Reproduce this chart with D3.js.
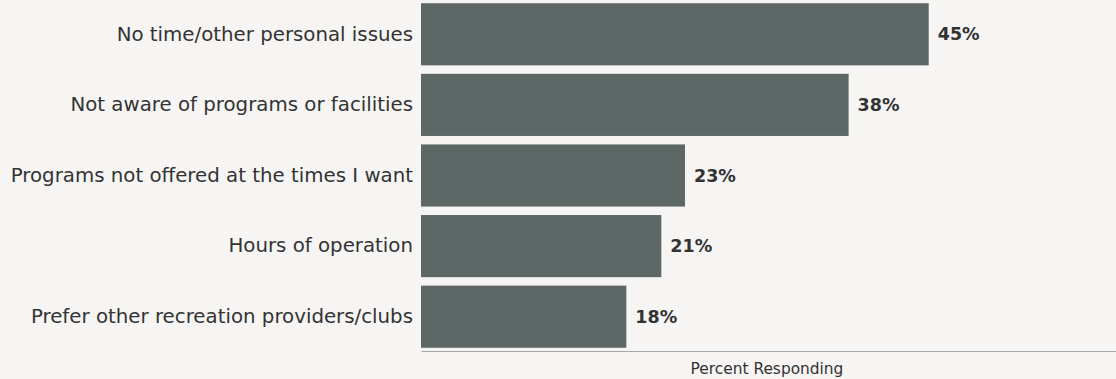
<!DOCTYPE html>
<html>
<head>
<meta charset="utf-8">
<script src="https://cdn.jsdelivr.net/npm/d3@7"></script>
<style>
html,body{margin:0;padding:0;background:#f6f5f3;}
svg{display:block;}
</style>
</head>
<body>
<svg id="chart" width="1116" height="379"></svg>
<script>
const categories = [
  "No time/other personal issues",
  "Not aware of programs or facilities",
  "Programs not offered at the times I want",
  "Hours of operation",
  "Prefer other recreation providers/clubs"
];
const values = [45.0, 37.9, 23.4, 21.3, 18.2];
const valueLabels = ["45%", "38%", "23%", "21%", "18%"];
const axisTitle = "Percent Responding";

(function () {
const svg = d3.select("#chart");
const W = 1116, H = 379;
const mLeft = 421, mRight = 1116, mBottom = 351;
const font = "'DejaVu Sans', sans-serif";

svg.append("rect").attr("width", W).attr("height", H).attr("fill", "#f6f5f3");

const x = d3.scaleLinear().domain([0, 61.6]).range([mLeft, mRight]);
const y = d3.scaleBand().domain(categories).range([-1, 352]).paddingInner(0.12).paddingOuter(0.06);

const g = svg.append("g");

g.selectAll("rect.bar").data(categories).join("rect")
  .attr("class", "bar")
  .attr("x", x(0))
  .attr("y", d => y(d))
  .attr("width", (d, i) => x(values[i]) - x(0))
  .attr("height", y.bandwidth())
  .attr("fill", "#5c6766");

const yAxis = d3.axisLeft(y).tickSize(0).tickPadding(8);
const ya = svg.append("g").attr("transform", `translate(${mLeft},0)`).call(yAxis);
ya.select(".domain").remove();
ya.selectAll("text")
  .attr("font-family", font)
  .attr("font-size", 19.8)
  .attr("fill", "#333");

g.selectAll("text.val").data(categories).join("text")
  .attr("class", "val")
  .attr("x", (d, i) => x(values[i]) + 9)
  .attr("y", d => y(d) + y.bandwidth() / 2)
  .attr("dy", "0.35em")
  .attr("font-family", font)
  .attr("font-weight", "bold")
  .attr("font-size", 17.5)
  .attr("fill", "#333")
  .text((d, i) => valueLabels[i]);

const xAxis = d3.axisBottom(x).tickValues([]).tickSizeOuter(0);
const xa = svg.append("g").attr("transform", `translate(0,${mBottom})`).call(xAxis);
xa.select(".domain").attr("stroke", "#a6aaa8").attr("stroke-width", 1.2);

svg.append("text")
  .attr("x", 767)
  .attr("y", 374)
  .attr("text-anchor", "middle")
  .attr("font-family", font)
  .attr("font-size", 15.4)
  .attr("fill", "#333")
  .text(axisTitle);
})();
</script>
</body>
</html>
